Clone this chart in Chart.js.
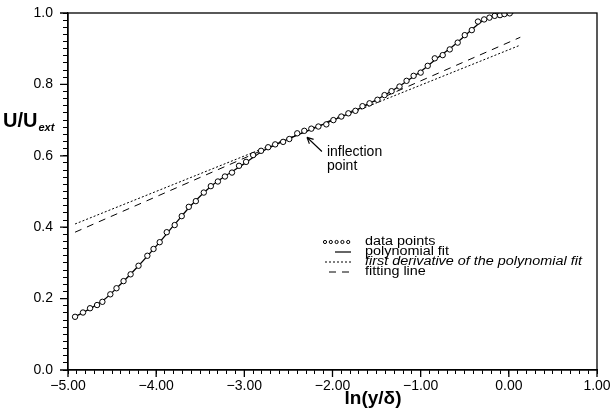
<!DOCTYPE html>
<html>
<head>
<meta charset="utf-8">
<script src="https://cdn.jsdelivr.net/npm/chart.js@4.4.0/dist/chart.umd.min.js"></script>
<style>
  html, body { margin: 0; padding: 0; background: #fff; }
</style>
</head>
<body>
<canvas id="chart_velocity" width="611" height="412"></canvas>
<script>
    // Points mesurés (ln(y/delta), U/Uext)
    var pointsX = [-4.92, -4.83, -4.75, -4.67, -4.61, -4.52, -4.45, -4.37, -4.29, -4.20,
                   -4.10, -4.03, -3.96, -3.88, -3.79, -3.71, -3.63, -3.55, -3.46, -3.38,
                   -3.30, -3.22, -3.14, -3.06, -2.98, -2.90, -2.81, -2.73, -2.65, -2.56,
                   -2.49, -2.40, -2.32, -2.24, -2.16, -2.07, -1.99, -1.90, -1.82, -1.74,
                   -1.66, -1.58, -1.49, -1.41, -1.33, -1.24, -1.16, -1.08, -1.00, -0.92,
                   -0.84, -0.75, -0.67, -0.58, -0.50, -0.42, -0.35, -0.28, -0.22, -0.16,
                   -0.10, -0.05, 0.01];
    var pointsY = [0.149, 0.161, 0.173, 0.182, 0.191, 0.212, 0.229, 0.249, 0.268, 0.292,
                   0.320, 0.339, 0.358, 0.386, 0.406, 0.431, 0.457, 0.473, 0.497, 0.515,
                   0.528, 0.542, 0.553, 0.572, 0.583, 0.602, 0.614, 0.624, 0.632, 0.639,
                   0.647, 0.663, 0.670, 0.676, 0.682, 0.688, 0.700, 0.710, 0.719, 0.726,
                   0.739, 0.747, 0.757, 0.770, 0.781, 0.794, 0.810, 0.824, 0.833, 0.852,
                   0.873, 0.882, 0.898, 0.917, 0.938, 0.952, 0.976, 0.982, 0.987, 0.992,
                   0.994, 0.997, 0.999];

    // Ajustement polynomial
    var fitX = [-4.92, -4.8, -4.6, -4.4, -4.2, -4.0, -3.8, -3.6, -3.4, -3.2, -3.0, -2.8, -2.6, -2.4,
                -2.2, -2.0, -1.8, -1.6, -1.4, -1.2, -1.0, -0.8, -0.6, -0.4, -0.3, -0.2, -0.1, 0.0, 0.05];
    var fitY = [0.149, 0.165, 0.195, 0.241, 0.292, 0.347, 0.405, 0.462, 0.510, 0.546, 0.578, 0.612, 0.636, 0.658,
                0.678, 0.699, 0.720, 0.744, 0.771, 0.802, 0.836, 0.876, 0.914, 0.958, 0.978, 0.989, 0.995, 0.998, 0.999];

    // Tangente au point d'inflexion et droite d'ajustement
    var derivX = [-4.92, 0.13];
    var derivY = [0.409, 0.910];
    var lineX = [-4.92, 0.13];
    var lineY = [0.386, 0.932];

    // Graduations principales
    var xMajorTicks = [-5, -4, -3, -2, -1, 0, 1];
    var yMajorTicks = [0, 0.2, 0.4, 0.6, 0.8, 1.0];

    var legendLabels = ['data points', 'polynomial fit', 'first derivative of the polynomial fit', 'fitting line'];
    var inflectionLabel = ['inflection', 'point'];
    var inflectionTip = [-2.29, 0.652];
    var inflectionTail = [-2.12, 0.612];

    var FONT = '"Liberation Sans", Arial, Helvetica, sans-serif';

    function zip(xs, ys) {
        return xs.map(function (x, i) { return {x: x, y: ys[i]}; });
    }
    function isMajor(v, list) {
        return list.some(function (m) { return Math.abs(m - v) < 1e-6; });
    }

    var decorations = {
        id: 'decorations',
        afterDraw: function (chart) {
            var ctx = chart.ctx;
            var a = chart.chartArea;
            var sx = chart.scales.x, sy = chart.scales.y;
            ctx.save();

            // cadre
            ctx.strokeStyle = '#000';
            ctx.lineWidth = 1.3;
            ctx.strokeRect(a.left, a.top, a.right - a.left, a.bottom - a.top);

            // graduations principales plus longues
            ctx.beginPath();
            xMajorTicks.forEach(function (v) {
                var px = sx.getPixelForValue(v);
                ctx.moveTo(px, a.bottom); ctx.lineTo(px, a.bottom + 7);
            });
            yMajorTicks.forEach(function (v) {
                var py = sy.getPixelForValue(v);
                ctx.moveTo(a.left, py); ctx.lineTo(a.left - 8, py);
            });
            ctx.stroke();

            // titres des axes
            ctx.fillStyle = '#000';
            ctx.textBaseline = 'alphabetic';
            ctx.textAlign = 'left';
            ctx.font = 'bold 20px ' + FONT;
            ctx.fillText('U/U', 3, 127);
            var w = ctx.measureText('U/U').width;
            ctx.font = 'italic bold 11px ' + FONT;
            ctx.fillText('ext', 4 + w, 131);
            ctx.font = 'bold 19px ' + FONT;
            ctx.textAlign = 'center';
            ctx.fillText('ln(y/\u03b4)', 373, 404);

            // légende
            var lx = 365, ly = 242, step = 10;
            ctx.textAlign = 'left';
            ctx.textBaseline = 'middle';
            ctx.lineWidth = 1;
            for (var i = 0; i < 5; i++) {
                ctx.beginPath();
                ctx.arc(325 + i * 5.8, ly, 1.6, 0, Math.PI * 2);
                ctx.stroke();
            }
            ctx.beginPath();
            ctx.lineWidth = 1.2;
            ctx.moveTo(335, ly + step); ctx.lineTo(351, ly + step);
            ctx.stroke();
            ctx.lineWidth = 1;
            ctx.setLineDash([2, 2]);
            ctx.beginPath();
            ctx.moveTo(325, ly + 2 * step); ctx.lineTo(351, ly + 2 * step);
            ctx.stroke();
            ctx.setLineDash([7, 6]);
            ctx.beginPath();
            ctx.moveTo(329, ly + 3 * step); ctx.lineTo(351, ly + 3 * step);
            ctx.stroke();
            ctx.setLineDash([]);
            // texte légèrement élargi comme dans la figure d'origine
            legendLabels.forEach(function (t, k) {
                ctx.save();
                ctx.translate(lx, ly + k * step);
                ctx.scale(1.2, 1);
                ctx.font = (k === 2 ? 'italic ' : '') + '12px ' + FONT;
                ctx.fillText(t, 0, 0);
                ctx.restore();
            });

            // flèche du point d'inflexion
            var tx = sx.getPixelForValue(inflectionTip[0]), ty = sy.getPixelForValue(inflectionTip[1]);
            var bx = sx.getPixelForValue(inflectionTail[0]), by = sy.getPixelForValue(inflectionTail[1]);
            var ang = Math.atan2(ty - by, tx - bx);
            ctx.lineWidth = 1.1;
            ctx.beginPath();
            ctx.moveTo(bx, by); ctx.lineTo(tx, ty);
            ctx.moveTo(tx, ty); ctx.lineTo(tx - 7 * Math.cos(ang - 0.45), ty - 7 * Math.sin(ang - 0.45));
            ctx.moveTo(tx, ty); ctx.lineTo(tx - 7 * Math.cos(ang + 0.45), ty - 7 * Math.sin(ang + 0.45));
            ctx.stroke();
            ctx.font = '14px ' + FONT;
            ctx.fillText(inflectionLabel[0], bx + 5, by + 1);
            ctx.fillText(inflectionLabel[1], bx + 5, by + 15);

            ctx.restore();
        }
    };

    new Chart(document.getElementById('chart_velocity'), {
        type: 'scatter',
        data: {
            datasets: [{
                label: legendLabels[0],
                data: zip(pointsX, pointsY),
                showLine: false,
                pointStyle: 'circle',
                pointRadius: 2.7,
                pointBorderWidth: 1,
                pointBorderColor: '#000',
                pointBackgroundColor: '#fff',
            }, {
                label: legendLabels[1],
                data: zip(fitX, fitY),
                showLine: true,
                pointRadius: 0,
                borderColor: '#000',
                borderWidth: 1.3,
                cubicInterpolationMode: 'monotone',
            }, {
                label: legendLabels[2],
                data: zip(derivX, derivY),
                showLine: true,
                pointRadius: 0,
                borderColor: '#000',
                borderWidth: 1,
                borderDash: [2, 2],
            }, {
                label: legendLabels[3],
                data: zip(lineX, lineY),
                showLine: true,
                pointRadius: 0,
                borderColor: '#000',
                borderWidth: 1,
                borderDash: [7, 6],
            }]
        },
        options: {
            responsive: false,
            animation: false,
            devicePixelRatio: 1,
            layout: {padding: {top: 13, right: 14, left: 0, bottom: 0}},
            plugins: {legend: {display: false}, tooltip: {enabled: false}},
            scales: {
                x: {
                    type: 'linear',
                    min: -5, max: 1,
                    afterFit: function (s) {
                        s.height = 42;
                        s.paddingLeft = 0;
                        s.paddingRight = 0;
                    },
                    border: {display: true, color: '#000', width: 1.3},
                    grid: {drawOnChartArea: false, drawTicks: true, tickLength: 4, color: '#000', lineWidth: 1},
                    ticks: {
                        stepSize: 0.1,
                        autoSkip: false,
                        maxRotation: 0,
                        maxTicksLimit: 200,
                        padding: 4,
                        color: '#000',
                        font: {family: FONT, size: 14},
                        callback: function (v) {
                            if (!isMajor(v, xMajorTicks)) return '';
                            var r = Math.round(v);
                            return (r < 0 ? '\u2212' : '') + Math.abs(r).toFixed(2);
                        }
                    }
                },
                y: {
                    type: 'linear',
                    min: 0, max: 1,
                    afterFit: function (s) {
                        s.width = 68;
                        s.paddingTop = 0;
                        s.paddingBottom = 0;
                    },
                    border: {display: true, color: '#000', width: 1.3},
                    grid: {drawOnChartArea: false, drawTicks: true, tickLength: 5, color: '#000', lineWidth: 1},
                    ticks: {
                        stepSize: 0.02,
                        autoSkip: false,
                        maxTicksLimit: 200,
                        padding: 10,
                        color: '#000',
                        font: {family: FONT, size: 14},
                        callback: function (v) {
                            if (!isMajor(v, yMajorTicks)) return '';
                            return v.toFixed(1);
                        }
                    }
                }
            }
        },
        plugins: [decorations]
    });
</script>
</body>
</html>
